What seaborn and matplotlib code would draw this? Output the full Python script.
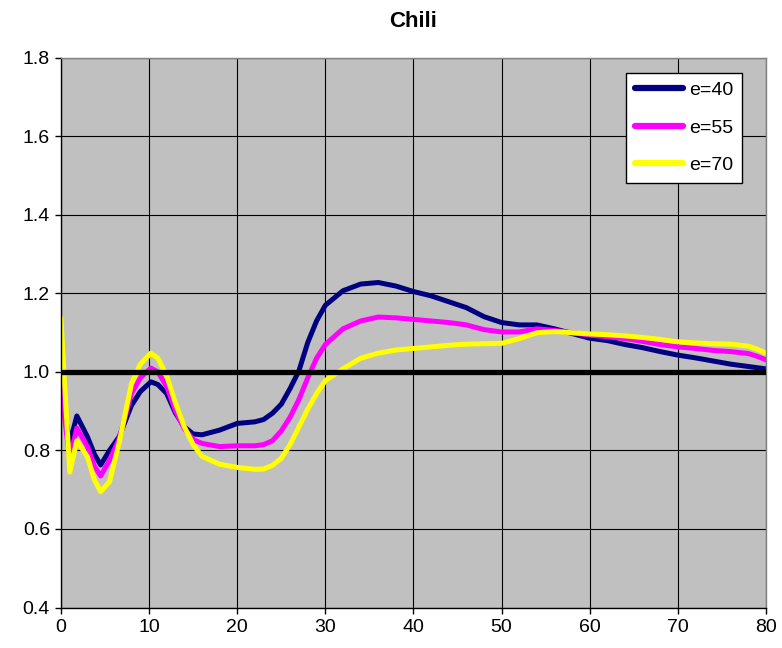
import matplotlib
matplotlib.use("Agg")
import matplotlib.pyplot as plt
import numpy as np
import pandas as pd
import seaborn as sns

x_vals = [0, 0.3, 1.0, 1.8, 3, 3.8, 4.5, 5.5, 6.6, 8, 9, 10.2, 11, 12, 13, 14, 15, 16,
          18, 20, 22, 23, 24, 25, 26, 27, 28, 29, 30, 32, 34, 36, 38, 40, 42, 44, 46,
          48, 50, 52, 54, 56, 58, 60, 62, 64, 66, 68, 70, 72, 74, 76, 78, 79, 80]

e40 = [0.975, 0.91, 0.82, 0.888, 0.835, 0.79, 0.763, 0.80, 0.835, 0.915, 0.95, 0.975,
       0.968, 0.945, 0.895, 0.86, 0.842, 0.84, 0.852, 0.869, 0.873, 0.879, 0.895, 0.918,
       0.958, 1.003, 1.075, 1.13, 1.17, 1.207, 1.224, 1.228, 1.219, 1.205, 1.194, 1.179,
       1.164, 1.141, 1.126, 1.12, 1.12, 1.11, 1.098, 1.086, 1.08, 1.07, 1.062, 1.052,
       1.043, 1.036, 1.028, 1.02, 1.014, 1.011, 1.008]

e55 = [0.97, 0.90, 0.78, 0.857, 0.81, 0.76, 0.735, 0.775, 0.83, 0.945, 0.985, 1.01,
       1.0, 0.963, 0.9, 0.855, 0.828, 0.818, 0.81, 0.812, 0.812, 0.815, 0.825, 0.85,
       0.885, 0.93, 0.985, 1.035, 1.07, 1.11, 1.13, 1.14, 1.138, 1.134, 1.13, 1.126,
       1.12, 1.108, 1.102, 1.102, 1.11, 1.106, 1.1, 1.094, 1.09, 1.085, 1.078, 1.07,
       1.064, 1.06, 1.055, 1.052, 1.047, 1.04, 1.031]

e70 = [1.137, 1.01, 0.745, 0.825, 0.784, 0.725, 0.695, 0.72, 0.82, 0.97, 1.02, 1.048,
       1.035, 0.99, 0.92, 0.86, 0.815, 0.785, 0.765, 0.757, 0.752, 0.753, 0.762, 0.78,
       0.815, 0.86, 0.905, 0.945, 0.978, 1.008, 1.035, 1.048, 1.056, 1.06, 1.064, 1.068,
       1.071, 1.072, 1.073, 1.085, 1.1, 1.103, 1.1, 1.097, 1.095, 1.092, 1.088, 1.083,
       1.077, 1.074, 1.072, 1.071, 1.066, 1.058, 1.048]

series_names = ["e=40", "e=55", "e=70"]
series_colors = ["#000080", "#FF00FF", "#FFFF00"]
x_ticks = [0, 10, 20, 30, 40, 50, 60, 70, 80]
y_ticks = [0.4, 0.6, 0.8, 1.0, 1.2, 1.4, 1.6, 1.8]

df = pd.DataFrame({
    "x": x_vals * 3,
    "value": e40 + e55 + e70,
    "series": [n for n in series_names for _ in x_vals],
})

sns.set_style("white")
plt.rcParams["font.family"] = ["Liberation Sans", "DejaVu Sans"]
plt.rcParams["text.color"] = "black"
plt.rcParams["xtick.color"] = "black"
plt.rcParams["ytick.color"] = "black"
plt.rcParams["xtick.labelcolor"] = "black"
plt.rcParams["ytick.labelcolor"] = "black"

fig = plt.figure(figsize=(7.82, 6.48), dpi=100)
ax = fig.add_axes([0.078, 0.0625, 0.9015, 0.848])
ax.set_facecolor("#C0C0C0")

sns.lineplot(data=df, x="x", y="value", hue="series", hue_order=series_names,
             palette=series_colors, linewidth=3.6, ax=ax, sort=False)

# reference line at 1.0 sits above the curves
ax.axhline(1.0, color="black", linewidth=3.8, zorder=5)

ax.set_xlim(0, 80)
ax.set_ylim(0.4, 1.8)
ax.set_xticks(x_ticks)
ax.set_yticks(y_ticks)
ax.set_yticklabels([f"{v:.1f}" for v in y_ticks])
ax.grid(True, color="black", linewidth=0.8)
ax.set_axisbelow(True)
ax.tick_params(axis="both", direction="out", length=4, width=1, labelsize=14,
               bottom=True, left=True, pad=4, colors="black")
ax.set_xlabel("")
ax.set_ylabel("")
ax.set_title("Chili", fontsize=16, fontweight="bold", pad=22, color="black")

for side in ["left", "bottom"]:
    ax.spines[side].set_color("black")
    ax.spines[side].set_linewidth(1)
for side in ["top", "right"]:
    ax.spines[side].set_color("#808080")
    ax.spines[side].set_linewidth(1)

leg = ax.legend(loc="upper right", bbox_to_anchor=(0.966, 0.973), fontsize=14,
                frameon=True, fancybox=False, framealpha=1, edgecolor="black",
                handlelength=2.5, labelspacing=1.02, borderaxespad=0,
                handletextpad=0.3, borderpad=0.45)
leg.get_frame().set_linewidth(1)
for line in leg.get_lines():
    line.set_linewidth(4.5)

fig.savefig("out.png", dpi=100)
